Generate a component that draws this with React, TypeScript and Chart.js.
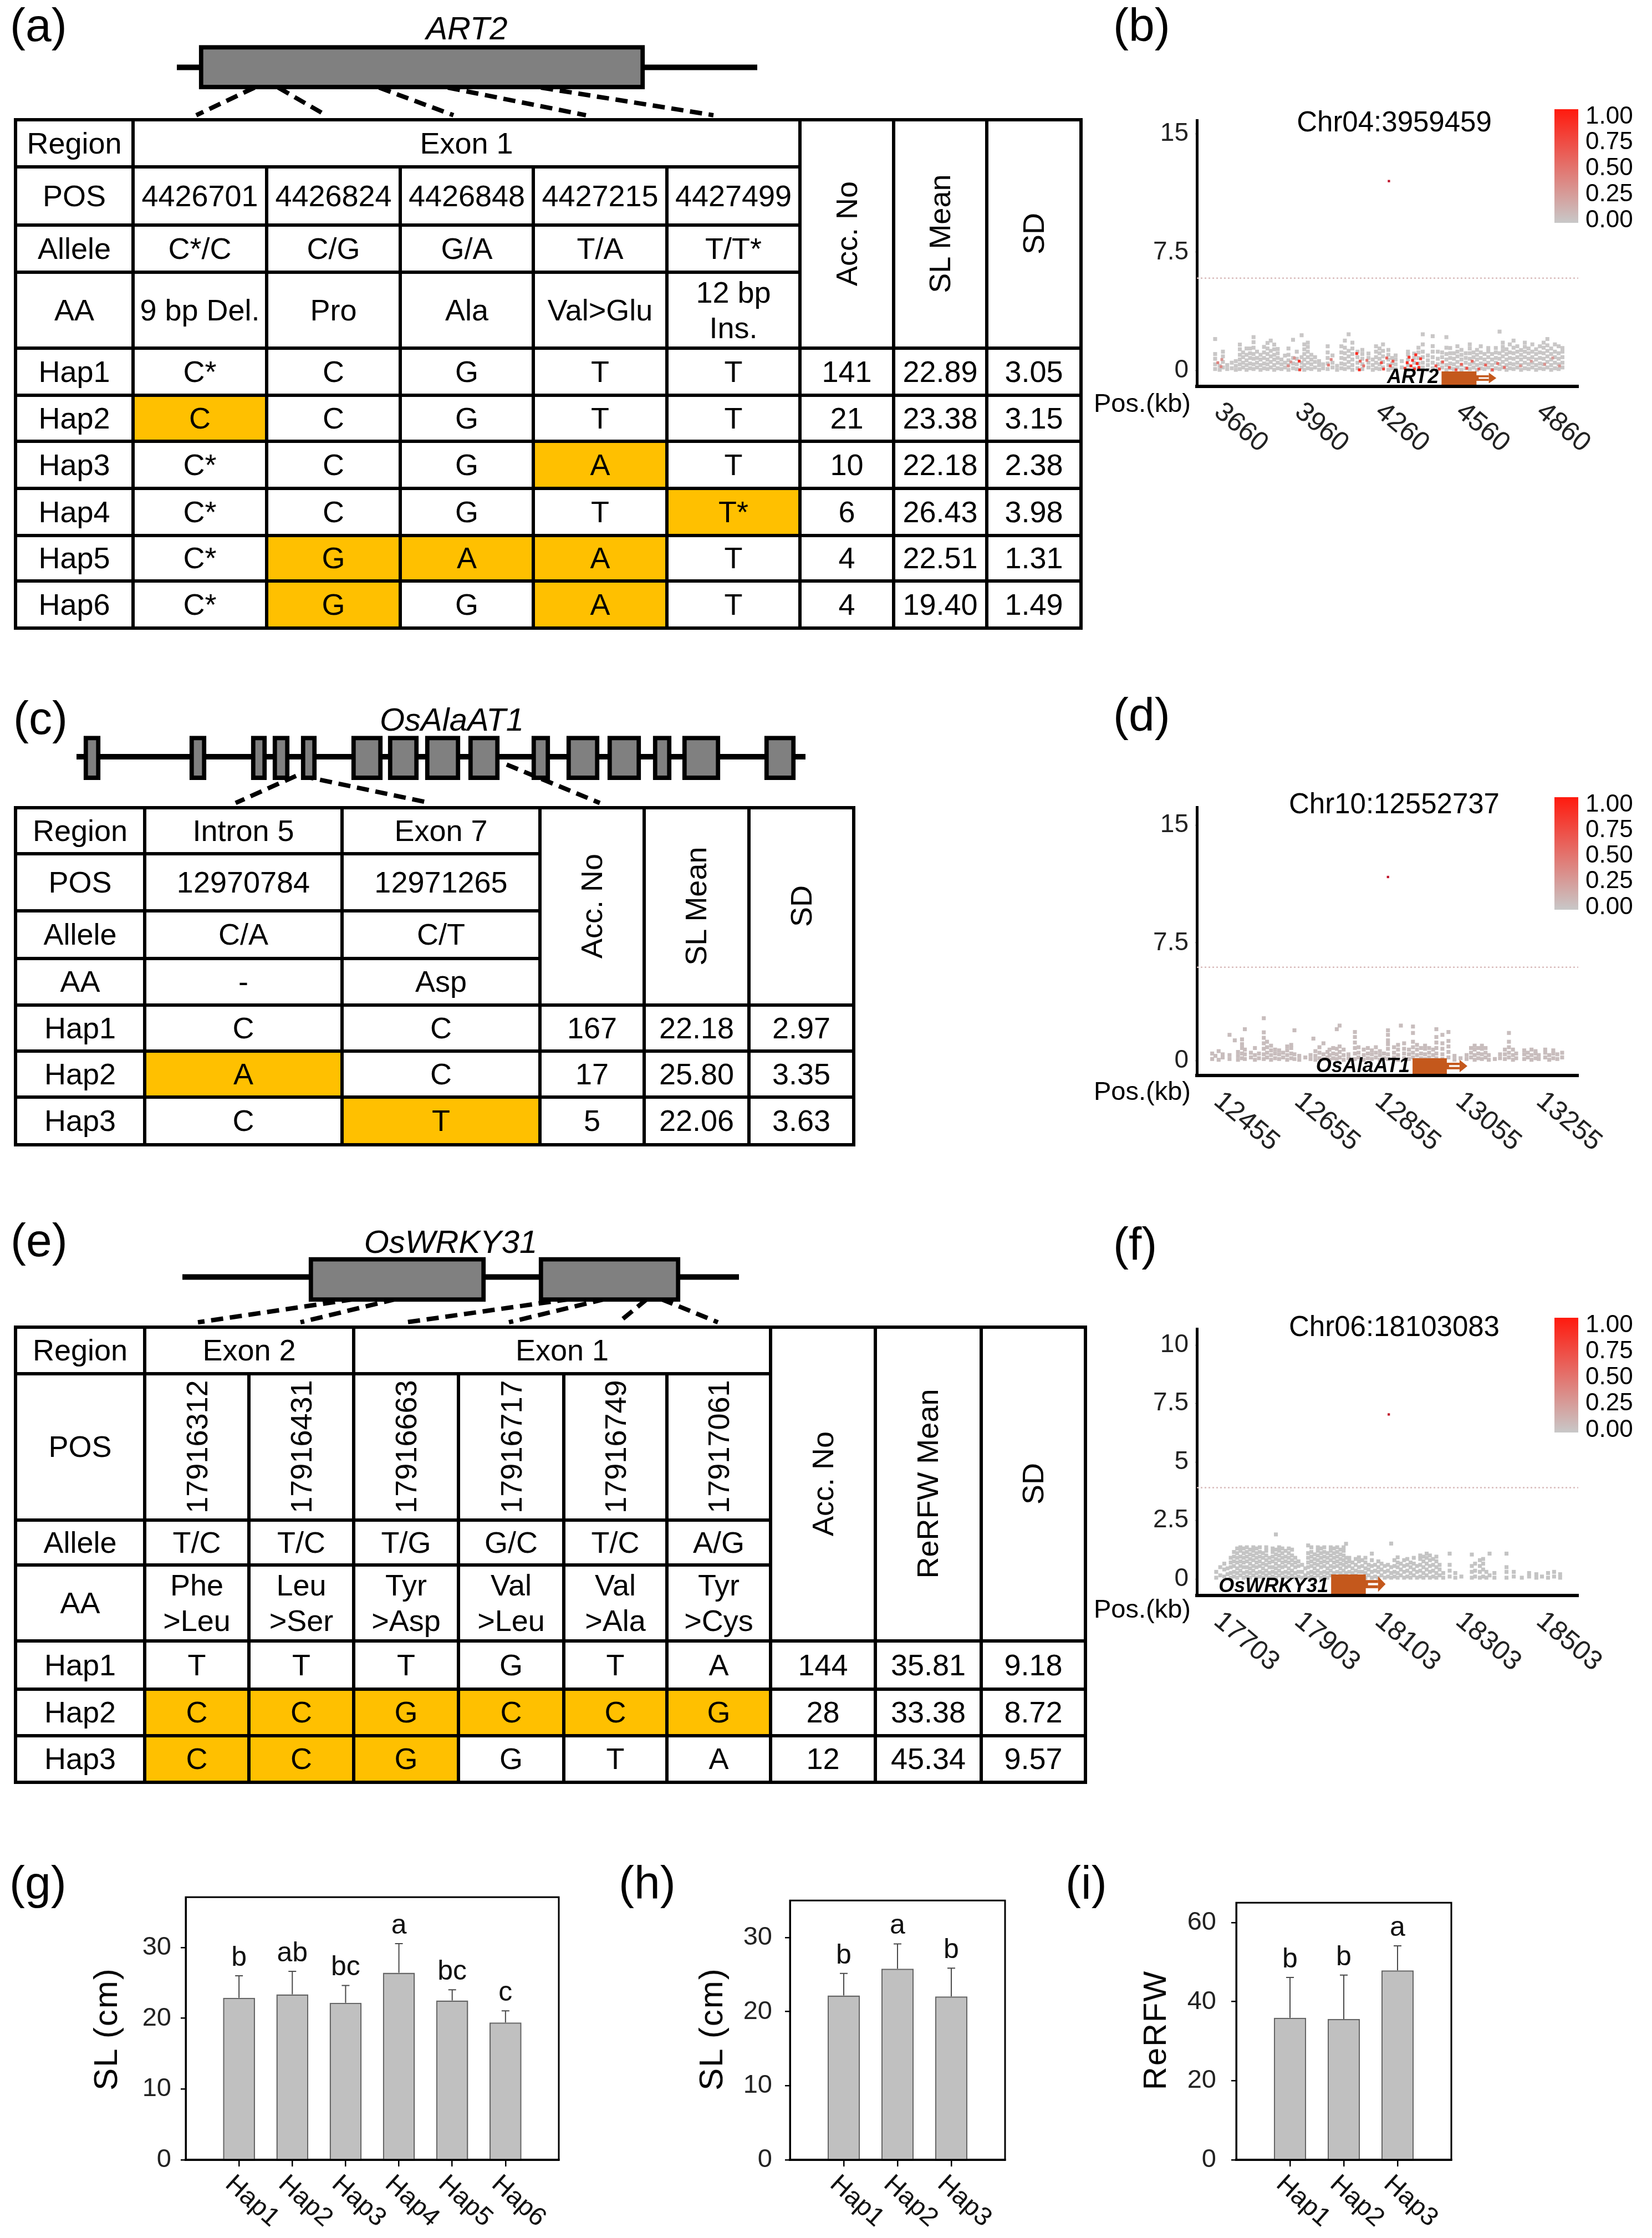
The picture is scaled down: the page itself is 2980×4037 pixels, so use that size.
import React, { useEffect, useRef } from 'react';
import { Chart, registerables } from 'chart.js';

Chart.register(...registerables);

const FONT = '"Liberation Sans", Arial, Helvetica, sans-serif';
const HL = '#FFC000';
const GENE_BROWN = '#C4581C';

// ---------------- (a) ART2 table data ----------------
const aRegions = [{ text: 'Exon 1', from: 0, to: 5 }];
const aPos = ['4426701', '4426824', '4426848', '4427215', '4427499'];
const aAllele = ['C*/C', 'C/G', 'G/A', 'T/A', 'T/T*'];
const aAA = ['9 bp Del.', 'Pro', 'Ala', 'Val>Glu', '12 bp\nIns.'];
const aHaps = ['Hap1', 'Hap2', 'Hap3', 'Hap4', 'Hap5', 'Hap6'];
const aHapAlleles = [
  ['C*', 'C', 'G', 'T', 'T'],
  ['C', 'C', 'G', 'T', 'T'],
  ['C*', 'C', 'G', 'A', 'T'],
  ['C*', 'C', 'G', 'T', 'T*'],
  ['C*', 'G', 'A', 'A', 'T'],
  ['C*', 'G', 'G', 'A', 'T'],
];
const aHighlight = [
  [0, 0, 0, 0, 0],
  [1, 0, 0, 0, 0],
  [0, 0, 0, 1, 0],
  [0, 0, 0, 0, 1],
  [0, 1, 1, 1, 0],
  [0, 1, 0, 1, 0],
];
const aAcc = ['141', '21', '10', '6', '4', '4'];
const aMean = ['22.89', '23.38', '22.18', '26.43', '22.51', '19.40'];
const aSD = ['3.05', '3.15', '2.38', '3.98', '1.31', '1.49'];
const aStatHeads = ['Acc. No', 'SL Mean', 'SD'];

// ---------------- (c) OsAlaAT1 table data ----------------
const cRegions = [{ text: 'Intron 5', from: 0, to: 1 }, { text: 'Exon 7', from: 1, to: 2 }];
const cPos = ['12970784', '12971265'];
const cAllele = ['C/A', 'C/T'];
const cAA = ['-', 'Asp'];
const cHaps = ['Hap1', 'Hap2', 'Hap3'];
const cHapAlleles = [['C', 'C'], ['A', 'C'], ['C', 'T']];
const cHighlight = [[0, 0], [1, 0], [0, 1]];
const cAcc = ['167', '17', '5'];
const cMean = ['22.18', '25.80', '22.06'];
const cSD = ['2.97', '3.35', '3.63'];
const cStatHeads = ['Acc. No', 'SL Mean', 'SD'];

// ---------------- (e) OsWRKY31 table data ----------------
const eRegions = [{ text: 'Exon 2', from: 0, to: 2 }, { text: 'Exon 1', from: 2, to: 6 }];
const ePos = ['17916312', '17916431', '17916663', '17916717', '17916749', '17917061'];
const eAllele = ['T/C', 'T/C', 'T/G', 'G/C', 'T/C', 'A/G'];
const eAA = ['Phe\n>Leu', 'Leu\n>Ser', 'Tyr\n>Asp', 'Val\n>Leu', 'Val\n>Ala', 'Tyr\n>Cys'];
const eHaps = ['Hap1', 'Hap2', 'Hap3'];
const eHapAlleles = [
  ['T', 'T', 'T', 'G', 'T', 'A'],
  ['C', 'C', 'G', 'C', 'C', 'G'],
  ['C', 'C', 'G', 'G', 'T', 'A'],
];
const eHighlight = [
  [0, 0, 0, 0, 0, 0],
  [1, 1, 1, 1, 1, 1],
  [1, 1, 1, 0, 0, 0],
];
const eAcc = ['144', '28', '12'];
const eMean = ['35.81', '33.38', '45.34'];
const eSD = ['9.18', '8.72', '9.57'];
const eStatHeads = ['Acc. No', 'ReRFW Mean', 'SD'];

// ---------------- (b) Chr04 regional association (kb, -log10P values per column) ----------------
const bXTicks = [3660, 3960, 4260, 4560, 4860];
const bYTicks = [0, 7.5, 15];
const bCols = [
  [3623, 0.1, 0.4, 0.75, 1.05, 2.0], [3640, 0.05, 0.3], [3652, 0.2, 0.55, 0.9, 1.2], [3668, 0.1, 0.35],
  [3685, 0.15, 0.5], [3700, 0.05, 0.3, 0.6], [3715, 0.1, 0.4, 0.7, 1.0, 1.35, 1.65], [3727, 0.2, 0.5, 0.85, 1.15],
  [3740, 0.05, 0.35, 0.65, 1.0, 1.4], [3753, 0.15, 0.45, 0.8, 1.1, 1.4], [3766, 0.1, 0.4, 0.75, 1.05, 1.45, 1.8, 2.12],
  [3779, 0.2, 0.5, 0.8, 1.2], [3792, 0.05, 0.35, 0.7, 1.0], [3805, 0.15, 0.45, 0.8, 1.15, 1.5],
  [3818, 0.1, 0.4, 0.7, 1.05, 1.4, 1.75], [3830, 0.2, 0.55, 0.9, 1.25, 1.9], [3843, 0.05, 0.35, 0.7, 1.0, 1.35, 1.65],
  [3856, 0.15, 0.5, 0.8, 1.1, 1.37], [3870, 0.1, 0.4, 0.7], [3883, 0.2, 0.5, 0.95], [3896, 0.05, 0.35, 0.65, 1.0, 1.4],
  [3913, 0.15, 0.45, 0.8, 1.95], [3927, 0.1, 0.4, 0.75, 1.2], [3945, 0.2, 0.5, 0.85, 2.24],
  [3955, 0.05, 0.35, 0.7, 1.05, 1.35, 1.66], [3968, 0.15, 0.5, 0.85, 1.2, 1.5, 1.77], [3981, 0.1, 0.4, 0.7, 1.0],
  [3995, 0.2, 0.55, 0.85], [4010, 0.05, 0.35, 0.6], [4025, 0.15, 0.4], [4042, 0.1, 0.45, 0.8, 1.15, 1.54],
  [4060, 0.2, 0.5, 0.96], [4077, 0.05, 0.3], [4093, 0.15, 0.45, 0.8, 1.15, 1.54], [4106, 0.1, 0.4, 0.75, 1.1, 1.45, 1.9],
  [4120, 0.2, 0.55, 0.9, 1.25, 2.3], [4134, 0.05, 0.35, 0.7, 1.05, 1.4, 1.77], [4153, 0.15, 0.5, 0.85, 1.2],
  [4171, 0.1, 0.4, 0.75, 1.05, 1.31], [4194, 0.2, 0.5, 0.8, 1.08], [4210, 0.05, 0.35, 0.7], [4222, 0.15, 0.5, 0.85, 1.2, 1.54],
  [4235, 0.1, 0.4, 0.75, 1.1, 1.4], [4248, 0.2, 0.55, 0.9, 1.25, 1.66], [4268, 0.05, 0.35, 0.7, 1.0, 1.31],
  [4282, 0.15, 0.45, 0.8], [4295, 0.1, 0.4, 0.7, 0.96], [4318, 0.2, 0.6], [4341, 0.05, 0.35, 0.7, 1.0, 1.2],
  [4364, 0.15, 0.5, 0.8, 1.08], [4380, 0.1, 0.45, 0.8, 1.15, 1.45], [4396, 0.2, 0.5, 0.85, 1.2, 1.66, 2.3],
  [4415, 0.05, 0.35, 0.65, 0.96], [4433, 0.15, 0.5, 0.85, 1.2, 1.55, 2.18], [4452, 0.1, 0.4, 0.75, 1.2],
  [4468, 0.2, 0.5, 0.85, 1.15], [4484, 0.05, 0.35, 0.7, 1.05, 1.45, 2.12], [4498, 0.15, 0.45, 0.8, 1.1, 1.43],
  [4512, 0.1, 0.4, 0.75, 1.1], [4525, 0.2, 0.55, 0.9, 1.2, 1.54], [4540, 0.05, 0.35, 0.7, 1.0, 1.31],
  [4556, 0.15, 0.5, 0.8, 1.1], [4571, 0.1, 0.4, 0.75, 1.1, 1.4, 1.66], [4585, 0.2, 0.5, 0.85, 1.15],
  [4598, 0.05, 0.35, 0.7, 1.0, 1.31], [4612, 0.15, 0.45, 0.8, 1.15, 1.54], [4626, 0.1, 0.4, 0.7, 1.05],
  [4640, 0.2, 0.5, 0.85, 1.2, 1.43], [4654, 0.05, 0.35, 0.7, 1.05], [4668, 0.15, 0.5, 0.8, 1.15, 1.43],
  [4682, 0.1, 0.4, 0.75, 1.1, 2.47], [4694, 0.2, 0.55, 0.9, 1.25, 1.5, 1.77], [4708, 0.05, 0.35, 0.7, 1.05, 1.35],
  [4720, 0.15, 0.45, 0.8, 1.15, 1.66], [4734, 0.1, 0.4, 0.75, 1.1, 1.45, 1.9], [4748, 0.2, 0.5, 0.85, 1.2, 1.54],
  [4762, 0.05, 0.35, 0.7, 1.0, 1.3], [4776, 0.15, 0.5, 0.85, 1.2, 1.5, 1.77], [4790, 0.1, 0.4, 0.75, 1.1, 1.4],
  [4804, 0.2, 0.5, 0.85, 1.2, 1.66], [4818, 0.05, 0.35, 0.7, 1.05, 1.35], [4832, 0.15, 0.45, 0.8, 1.15, 1.54],
  [4846, 0.1, 0.4, 0.75, 1.1, 1.45, 1.77], [4860, 0.2, 0.55, 0.9, 1.25, 1.6, 2.0], [4874, 0.05, 0.35, 0.7, 1.05, 1.4],
  [4888, 0.15, 0.5, 0.85, 1.2, 1.66], [4902, 0.1, 0.4, 0.75, 1.1, 1.54], [4916, 0.2, 0.5, 0.85, 1.2, 1.43],
];
// [kb, -log10P, r2] for SNPs in LD with the lead SNP
const bLD = [
  [3633, 0.5, 0.4], [3645, 0.25, 0.35], [3648, 0.7, 0.3], [3895, 0.3, 0.35], [3905, 0.55, 0.3], [3918, 0.8, 0.3],
  [3936, 0.6, 0.85], [3938, 0.05, 0.8], [4045, 0.35, 0.45], [4055, 0.7, 0.4], [4150, 1.08, 0.9], [4160, 0.05, 0.95],
  [4163, 0.6, 0.6], [4176, 0.3, 0.5], [4188, 0.65, 0.45], [4242, 0.5, 0.7], [4250, 0.1, 0.75], [4262, 0.8, 0.6],
  [4275, 0.3, 0.8], [4285, 0.6, 0.65], [4330, 0.15, 0.8], [4338, 0.5, 0.9], [4345, 0.85, 0.85], [4352, 0.3, 0.95],
  [4358, 0.65, 0.9], [4365, 0.1, 0.85], [4370, 1.0, 0.9], [4375, 0.45, 0.95], [4382, 0.2, 0.9], [4388, 0.75, 0.8],
  [4445, 0.3, 0.7], [4458, 0.1, 0.75], [4470, 0.55, 0.6], [4495, 0.2, 0.65], [4520, 0.05, 0.7], [4540, 0.4, 0.6],
  [4560, 0.15, 0.7], [4580, 0.6, 0.55], [4605, 0.1, 0.6], [4630, 0.35, 0.6], [4655, 0.05, 0.65], [4675, 0.45, 0.5],
  [4700, 0.2, 0.5], [4760, 0.3, 0.3], [4800, 0.6, 0.25], [4850, 0.4, 0.3], [4880, 0.8, 0.25], [4905, 0.3, 0.3],
];
const bLead = [4270, 12.0];

// ---------------- (d) Chr10 regional association ----------------
const dXTicks = [12455, 12655, 12855, 13055, 13255];
const dYTicks = [0, 7.5, 15];
const dCols = [
  [12424, 0.1, 0.45], [12432, 0.3], [12440, 0.05, 0.6], [12450, 0.2, 0.4], [12467, 0.1, 0.35, 1.64], [12480, 1.29],
  [12488, 0.05, 0.3, 0.55], [12498, 0.15, 0.45, 0.8, 1.05, 1.35], [12505, 0.1, 0.4, 0.7, 2.0], [12520, 0.2, 0.5],
  [12530, 0.05, 0.35, 0.8], [12540, 0.15, 0.45], [12552, 0.1, 0.4, 0.75, 1.1, 1.45, 1.8, 2.7], [12560, 0.2, 0.5, 0.85, 1.2],
  [12570, 0.05, 0.35, 0.65, 0.95], [12580, 0.15, 0.45, 0.7], [12590, 0.1, 0.4, 0.65], [12600, 0.2, 0.5],
  [12610, 0.05, 0.35, 0.65, 0.9], [12620, 0.15, 0.45, 0.8, 1.0], [12628, 0.1, 0.4, 1.93], [12640, 0.05, 0.3],
  [12655, 0.2], [12668, 0.1, 0.35], [12675, 1.4], [12680, 0.05, 0.3, 0.6], [12690, 0.15, 0.5, 0.85], [12700, 0.1, 0.4, 1.1],
  [12710, 0.2, 0.55], [12715, 0.05, 0.35, 0.7], [12724, 0.15, 0.45, 0.8], [12733, 0.1, 0.4, 0.75, 2.0],
  [12740, 0.2, 0.55, 0.9, 2.23], [12750, 0.05, 0.35, 0.7], [12762, 0.15, 0.4], [12772, 0.05],
  [12778, 0.1, 0.45, 0.8, 1.15, 1.5, 1.82], [12787, 0.2, 0.5, 0.85], [12800, 0.05, 0.35, 0.7], [12810, 0.15, 0.45, 0.8],
  [12820, 0.1, 0.4, 0.65], [12830, 0.2, 0.5, 0.85], [12840, 0.05, 0.35, 0.6], [12850, 0.15, 0.45],
  [12860, 0.1, 0.4, 0.75, 1.05, 1.29, 1.64, 1.93], [12875, 0.2, 0.5, 0.85], [12885, 0.05, 0.35, 0.7, 1.0], [12892, 2.23],
  [12900, 0.15, 0.45, 0.75, 1.1], [12912, 0.1, 0.4, 0.7], [12922, 0.2, 0.5, 0.85, 1.2, 1.76, 2.17], [12932, 0.05, 0.35, 0.7, 1.0],
  [12942, 0.15, 0.45, 0.8], [12952, 0.1, 0.4, 0.75, 0.95], [12962, 0.2, 0.5, 0.8], [12972, 0.05, 0.35, 0.7],
  [12980, 0.15, 0.45, 0.8, 1.15, 1.5, 2.0], [12995, 0.1, 0.4, 0.75, 1.1, 1.64], [13010, 0.2, 0.55, 0.9, 1.25, 1.82],
  [13025, 0.05, 0.3], [13040, 0.15], [13055, 0.1, 0.35], [13066, 0.2, 0.5, 0.8], [13075, 0.05, 0.35, 0.7, 0.95],
  [13084, 0.15, 0.45, 0.8], [13093, 0.1, 0.4, 0.75, 0.95], [13102, 0.2, 0.5, 0.8], [13110, 0.05, 0.35], [13125, 0.1],
  [13138, 0.15, 0.4], [13150, 0.1, 0.4, 0.7], [13160, 0.2, 0.5, 0.85, 1.2, 1.76], [13170, 0.05, 0.35, 0.7], [13178, 0.15, 0.45],
  [13198, 0.1, 0.4, 0.65], [13207, 0.2, 0.5], [13216, 0.05, 0.35, 0.7], [13226, 0.15, 0.45, 0.6], [13234, 0.1, 0.35],
  [13250, 0.2, 0.5, 0.7], [13260, 0.05, 0.35], [13270, 0.15, 0.45, 0.65], [13280, 0.1, 0.4], [13292, 0.2, 0.5],
];
const dLD: number[][] = [];
const dLead = [12860, 11.7];

// ---------------- (f) Chr06 regional association ----------------
const fXTicks = [17703, 17903, 18103, 18303, 18503];
const fYTicks = [0, 2.5, 5, 7.5, 10];
const fCols = [
  [17682, 0.05, 0.3], [17692, 0.15, 0.5], [17702, 0.1, 0.4, 0.65], [17710, 0.2, 0.45],
  [17718, 0.05, 0.25, 0.5, 0.7, 0.9], [17726, 0.1, 0.3, 0.55, 0.75, 0.95, 1.15], [17734, 0.05, 0.25, 0.45, 0.7, 0.9, 1.1, 1.3],
  [17742, 0.15, 0.35, 0.55, 0.75, 0.95, 1.2, 1.35], [17750, 0.05, 0.25, 0.5, 0.7, 0.9, 1.1, 1.3],
  [17758, 0.1, 0.3, 0.5, 0.75, 0.95, 1.15, 1.35], [17766, 0.05, 0.25, 0.45, 0.65, 0.85, 1.05, 1.25],
  [17774, 0.15, 0.35, 0.55, 0.8, 1.0, 1.2, 1.35], [17782, 0.05, 0.25, 0.5, 0.7, 0.9, 1.1, 1.3],
  [17790, 0.1, 0.3, 0.55, 0.75, 0.95, 1.15, 1.35], [17798, 0.05, 0.25, 0.45, 0.65, 0.9, 1.1],
  [17806, 0.15, 0.35, 0.6, 0.8, 1.0, 1.2, 1.35], [17814, 0.05, 0.25, 0.5, 0.7, 0.9], [17822, 0.1, 0.3, 0.5, 0.75, 0.95, 1.15, 1.3],
  [17830, 0.05, 0.25, 0.45, 0.65, 0.85, 1.05, 1.25, 1.9], [17838, 0.15, 0.35, 0.55, 0.8, 1.0, 1.2, 1.35],
  [17846, 0.05, 0.25, 0.5, 0.7, 0.9, 1.1, 1.3], [17854, 0.1, 0.3, 0.55, 0.75, 0.95, 1.2], [17862, 0.05, 0.25, 0.45, 0.7, 0.9, 1.1, 1.3],
  [17870, 0.15, 0.35, 0.6, 0.8, 1.0, 1.25], [17878, 0.05, 0.25, 0.5, 0.7, 0.9], [17886, 0.1, 0.3, 0.55, 0.75],
  [17895, 0.05, 0.3, 0.6], [17903, 0.15, 0.45], [17910, 0.05, 0.25, 0.5, 0.7, 0.9, 1.1, 1.43],
  [17918, 0.1, 0.3, 0.55, 0.75, 0.95, 1.15, 1.35], [17926, 0.05, 0.25, 0.45, 0.65, 0.85, 1.05],
  [17934, 0.15, 0.35, 0.6, 0.8, 1.0, 1.2, 1.35], [17942, 0.05, 0.25, 0.5, 0.7, 0.9, 1.1, 1.3],
  [17950, 0.1, 0.3, 0.55, 0.75, 0.95, 1.15, 1.35], [17958, 0.05, 0.25, 0.45, 0.7, 0.9, 1.1],
  [17966, 0.15, 0.35, 0.55, 0.8, 1.0, 1.2, 1.35], [17974, 0.05, 0.25, 0.5, 0.7, 0.9, 1.1, 1.3],
  [17982, 0.1, 0.3, 0.55, 0.75, 0.95, 1.15, 1.35], [17990, 0.05, 0.25, 0.45, 0.65, 0.85, 1.05, 1.25],
  [17998, 0.15, 0.35, 0.6, 0.8, 1.0, 1.2, 1.35], [18004, 0.05, 0.25, 0.5, 0.7, 0.9, 1.5],
  [18012, 0.1, 0.3, 0.55, 0.75, 0.9], [18020, 0.05, 0.25, 0.45, 0.7], [18028, 0.15, 0.35, 0.6, 0.85],
  [18036, 0.05, 0.3, 0.5, 0.75, 0.92], [18044, 0.1, 0.3, 0.55, 0.8], [18052, 0.05, 0.25, 0.45, 0.7, 0.9], [18060, 0.15, 0.4, 0.6],
  [18068, 0.05, 0.3, 0.55, 0.8, 1.08], [18076, 0.1, 0.35, 0.6], [18084, 0.05, 0.3, 0.5, 0.75], [18092, 0.15, 0.4, 0.65],
  [18100, 0.05, 0.3, 0.55], [18108, 0.1, 0.35, 0.6], [18116, 0.05, 0.25, 0.5, 1.51], [18124, 0.1, 0.3, 0.55, 0.8],
  [18132, 0.05, 0.25, 0.5, 0.7, 0.92], [18140, 0.15, 0.4, 0.65], [18148, 0.05, 0.3, 0.55, 0.8], [18156, 0.1, 0.35, 0.6, 0.85],
  [18164, 0.05, 0.25, 0.5, 0.7], [18172, 0.15, 0.4, 0.65, 0.9], [18180, 0.05, 0.3, 0.55], [18188, 0.1, 0.35, 0.6, 0.85, 1.0],
  [18196, 0.05, 0.25, 0.5, 0.75, 0.95], [18204, 0.15, 0.4, 0.65, 0.9, 1.08], [18212, 0.05, 0.3, 0.55, 0.8, 1.0],
  [18220, 0.1, 0.35, 0.6, 0.85], [18228, 0.05, 0.25, 0.5, 0.75, 0.95], [18236, 0.15, 0.4, 0.6], [18245, 0.05, 0.25],
  [18261, 0.1, 0.35, 0.6, 1.08], [18275, 0.05, 0.25], [18290, 0.1], [18316, 0.05, 0.3, 0.55, 1.04], [18324, 0.1, 0.35, 0.65],
  [18336, 0.05, 0.3, 0.55, 0.8], [18344, 0.1, 0.4, 0.65, 0.85], [18352, 0.05, 0.3], [18360, 0.15, 1.08], [18372, 0.05, 0.25],
  [18402, 0.05, 0.3, 0.5, 1.08], [18420, 0.1, 0.3], [18440, 0.05], [18458, 0.1, 0.25], [18476, 0.05, 0.2], [18490, 0.1],
  [18505, 0.05, 0.25], [18520, 0.1, 0.3], [18535, 0.05, 0.2],
];
const fLD: number[][] = [];
const fLead = [18110, 7.03];

const legendLabels = ['1.00', '0.75', '0.50', '0.25', '0.00'];

// ---------------- (g)(h)(i) bar data ----------------
const gLabels = ['Hap1', 'Hap2', 'Hap3', 'Hap4', 'Hap5', 'Hap6'];
const gMeans = [22.89, 23.38, 22.18, 26.43, 22.51, 19.4];
const gSDs = [3.1, 3.25, 2.45, 4.1, 1.5, 1.65];
const gLetters = ['b', 'ab', 'bc', 'a', 'bc', 'c'];
const gYTicks = [0, 10, 20, 30];

const hLabels = ['Hap1', 'Hap2', 'Hap3'];
const hMeans = [22.18, 25.8, 22.06];
const hSDs = [2.97, 3.35, 3.8];
const hLetters = ['b', 'a', 'b'];
const hYTicks = [0, 10, 20, 30];

const iLabels = ['Hap1', 'Hap2', 'Hap3'];
const iMeans = [35.9, 35.6, 47.9];
const iSDs = [10.2, 11.1, 6.2];
const iLetters = ['b', 'b', 'a'];
const iYTicks = [0, 20, 40, 60];

// ---------------- helpers ----------------
function ldColor(r2: number) {
  const r = Math.round(200 + 55 * r2);
  const g = Math.round(200 - 174 * r2);
  const b = Math.round(200 - 186 * r2);
  return `rgb(${r},${g},${b})`;
}

function Txt({ x, base, size, children, align = 'left', italic = false, bold = false }: any) {
  const top = base - 0.847 * size;
  const transform = align === 'center' ? 'translateX(-50%)' : align === 'right' ? 'translateX(-100%)' : undefined;
  return (
    <div style={{ position: 'absolute', left: x, top, fontSize: size, lineHeight: `${size}px`, fontFamily: FONT,
      fontStyle: italic ? 'italic' : 'normal', fontWeight: bold ? 'bold' : 'normal', whiteSpace: 'nowrap', transform, color: '#000' }}>
      {children}
    </div>
  );
}

function VTxt({ cx, cy, size, children }: any) {
  return (
    <div style={{ position: 'absolute', left: cx, top: cy, fontSize: size, lineHeight: 1, fontFamily: FONT, whiteSpace: 'nowrap',
      letterSpacing: 2, transform: 'translate(-50%,-50%) rotate(-90deg)', color: '#000' }}>
      {children}
    </div>
  );
}

type Cell = { r0: number; r1: number; c0: number; c1: number; text: string; hl?: boolean; vertical?: boolean };

function buildCells(d: any): Cell[] {
  const k = d.pos.length;
  const cells: Cell[] = [];
  cells.push({ r0: 0, r1: 1, c0: 0, c1: 1, text: 'Region' });
  d.regions.forEach((r: any) => cells.push({ r0: 0, r1: 1, c0: 1 + r.from, c1: 1 + r.to, text: r.text }));
  d.statHeads.forEach((s: string, j: number) => cells.push({ r0: 0, r1: 4, c0: k + 1 + j, c1: k + 2 + j, text: s, vertical: true }));
  const rowsHead = [['POS', d.pos, d.verticalPos], ['Allele', d.allele, false], ['AA', d.aa, false]];
  rowsHead.forEach((rw: any, ri: number) => {
    cells.push({ r0: ri + 1, r1: ri + 2, c0: 0, c1: 1, text: rw[0] });
    rw[1].forEach((t: string, ci: number) => cells.push({ r0: ri + 1, r1: ri + 2, c0: ci + 1, c1: ci + 2, text: t, vertical: rw[2] }));
  });
  d.haps.forEach((h: string, hi: number) => {
    const r = 4 + hi;
    cells.push({ r0: r, r1: r + 1, c0: 0, c1: 1, text: h });
    d.hapAlleles[hi].forEach((t: string, ci: number) =>
      cells.push({ r0: r, r1: r + 1, c0: ci + 1, c1: ci + 2, text: t, hl: !!d.highlight[hi][ci] }));
    [d.acc[hi], d.mean[hi], d.sd[hi]].forEach((t: string, j: number) =>
      cells.push({ r0: r, r1: r + 1, c0: k + 1 + j, c1: k + 2 + j, text: t }));
  });
  return cells;
}

function HapTable({ cols, rows, cells }: { cols: number[]; rows: number[]; cells: Cell[] }) {
  const lw = 6;
  const x0 = cols[0];
  const y0 = rows[0];
  return (
    <div style={{ position: 'absolute', left: x0 - lw / 2, top: y0 - lw / 2, width: cols[cols.length - 1] - x0 + lw,
      height: rows[rows.length - 1] - y0 + lw, background: '#000' }}>
      {cells.map((c, i) => (
        <div key={i} style={{ position: 'absolute', left: cols[c.c0] - x0 + lw, top: rows[c.r0] - y0 + lw,
          width: cols[c.c1] - cols[c.c0] - lw, height: rows[c.r1] - rows[c.r0] - lw, background: c.hl ? HL : '#fff',
          display: 'flex', alignItems: 'center', justifyContent: 'center', textAlign: 'center', whiteSpace: 'pre-line',
          lineHeight: 1.17, fontSize: 54, fontFamily: FONT, color: '#000', overflow: 'visible' }}>
          {c.vertical ? (
            <span style={{ display: 'inline-block', transform: 'rotate(-90deg)', whiteSpace: 'nowrap', flexShrink: 0 }}>{c.text}</span>
          ) : c.text}
        </div>
      ))}
    </div>
  );
}

// ---------------- gene model (floating bars) ----------------
function GeneModel(p: any) {
  const ref = useRef<HTMLCanvasElement>(null);
  useEffect(() => {
    const chart = new Chart(ref.current as HTMLCanvasElement, {
      type: 'bar',
      data: {
        datasets: [
          { type: 'bar', data: p.exons.map((e: number[]) => ({ x: [e[0], e[1]], y: p.exonY })), backgroundColor: '#808080',
            borderColor: '#000', borderWidth: 8, borderSkipped: false, barThickness: p.exonH } as any,
          ...p.connectors.map((c: number[]) => ({ type: 'line', indexAxis: 'x', data: [{ x: c[0], y: c[1] }, { x: c[2], y: c[3] }],
            borderColor: '#000', borderWidth: 8, borderDash: [22, 12], pointRadius: 0, fill: false })),
          { type: 'line', indexAxis: 'x', data: [{ x: p.backbone[0], y: p.backboneY }, { x: p.backbone[1], y: p.backboneY }],
            borderColor: '#000', borderWidth: 10, pointRadius: 0, fill: false } as any,
        ],
      },
      options: {
        indexAxis: 'y', animation: false, responsive: false, events: [],
        plugins: { legend: { display: false }, tooltip: { enabled: false } },
        layout: { padding: 0 },
        scales: {
          x: { type: 'linear', min: 0, max: p.width, display: false },
          y: { type: 'linear', min: 0, max: p.height, reverse: true, display: false },
        },
      } as any,
    });
    return () => chart.destroy();
  }, []);
  return <canvas ref={ref} width={p.width} height={p.height}
    style={{ position: 'absolute', left: p.left, top: p.top, width: p.width, height: p.height }} />;
}

// ---------------- regional association (Manhattan) ----------------
const MAN_LEFT = 1960;
const MAN_W = 1020;
const AREA_L = 2159;
const AREA_R = 2847;

function Manhattan(p: any) {
  const ref = useRef<HTMLCanvasElement>(null);
  const canvasTop = p.areaTop - 60;
  const canvasH = p.areaBottom - canvasTop + 150;
  useEffect(() => {
    const grayPts = p.cols.flatMap((c: number[]) => c.slice(1).map((v) => ({ x: c[0], y: v })));
    const ldPts = p.ld.map((r: number[]) => ({ x: r[0], y: r[1] }));
    const ldCols = p.ld.map((r: number[]) => ldColor(r[2]));
    const plugin = {
      id: 'manExtras',
      afterDatasetsDraw(chart: any) {
        const { ctx, chartArea, scales } = chart;
        const x = scales.x, y = scales.y;
        const bx0 = x.getPixelForValue(p.geneBox[0]);
        const bx1 = x.getPixelForValue(p.geneBox[1]);
        const ax1 = x.getPixelForValue(p.geneEnd);
        const yt = y.getPixelForValue(p.geneTop);
        const yb = chartArea.bottom - 3;
        ctx.save();
        ctx.fillStyle = GENE_BROWN;
        ctx.fillRect(bx0, yt, bx1 - bx0, yb - yt);
        const yc = (yt + yb) / 2;
        const sh = (yb - yt) * 0.42;
        const headL = (ax1 - bx1) * 0.38;
        ctx.fillRect(bx1 - 1, yc - sh / 2, ax1 - bx1 - headL + 1, sh);
        ctx.beginPath();
        ctx.moveTo(ax1 - headL, yc - sh * 0.95);
        ctx.lineTo(ax1, yc);
        ctx.lineTo(ax1 - headL, yc + sh * 0.95);
        ctx.closePath();
        ctx.fill();
        ctx.fillStyle = '#fff';
        ctx.fillRect(bx1 + 4, yc - sh * 0.14, ax1 - bx1 - headL - 4, sh * 0.28);
        ctx.fillStyle = '#000';
        ctx.font = `italic bold 36px ${FONT}`;
        ctx.textAlign = 'right';
        ctx.textBaseline = 'alphabetic';
        ctx.fillText(p.gene, bx0 - 5, chartArea.bottom - 6);
        ctx.restore();
      },
      afterDraw(chart: any) {
        const { ctx, chartArea, scales } = chart;
        ctx.save();
        ctx.fillStyle = '#222';
        ctx.font = `49px ${FONT}`;
        ctx.textAlign = 'left';
        ctx.textBaseline = 'alphabetic';
        p.xTicks.forEach((v: number) => {
          const px = scales.x.getPixelForValue(v);
          ctx.save();
          ctx.translate(px - 22, chartArea.bottom + 50);
          ctx.rotate((40 * Math.PI) / 180);
          ctx.fillText(String(v), 0, 0);
          ctx.restore();
        });
        ctx.restore();
      },
    };
    const chart = new Chart(ref.current as HTMLCanvasElement, {
      type: 'scatter',
      data: {
        datasets: [
          { type: 'scatter', data: [{ x: p.lead[0], y: p.lead[1] }], pointStyle: 'rect', pointRadius: 3, pointBackgroundColor: '#c0142a', pointBorderWidth: 0 },
          { type: 'scatter', data: ldPts, pointStyle: 'rect', pointRadius: 3.6, pointBackgroundColor: ldCols, pointBorderWidth: 0 },
          { type: 'scatter', data: grayPts, pointStyle: 'rect', pointRadius: 5, pointBackgroundColor: p.grayColor, pointBorderWidth: 0 },
          { type: 'line', data: [{ x: p.xMin, y: p.threshold }, { x: p.xMax, y: p.threshold }], borderColor: '#d9bcbc',
            borderWidth: 2.5, borderDash: [3, 4], pointRadius: 0, fill: false },
        ] as any,
      },
      options: {
        animation: false, responsive: false, events: [],
        layout: { padding: { top: 60, left: 0, bottom: 0, right: MAN_W - (AREA_R - MAN_LEFT) } },
        plugins: { legend: { display: false }, tooltip: { enabled: false } },
        scales: {
          x: {
            type: 'linear', min: p.xMin, max: p.xMax,
            ticks: { display: false },
            grid: { display: false, drawTicks: false },
            border: { display: true, color: '#000', width: 6 },
            afterFit: (s: any) => { s.height = 150; },
          },
          y: {
            type: 'linear', min: p.yMin, max: p.yMax,
            afterBuildTicks: (s: any) => { s.ticks = p.yTicks.map((v: number) => ({ value: v })); },
            ticks: { font: { size: 46, family: FONT }, color: '#222', padding: 11, callback: (v: any) => String(v) },
            grid: { display: true, drawOnChartArea: false, drawTicks: true, tickLength: 4, color: '#bbb' },
            border: { display: true, color: '#000', width: 5 },
            afterFit: (s: any) => { s.width = AREA_L - MAN_LEFT; },
          },
        },
      } as any,
      plugins: [plugin],
    });
    return () => chart.destroy();
  }, []);
  const gTop = p.legendTop;
  const gBot = p.legendBottom;
  return (
    <>
      <canvas ref={ref} width={MAN_W} height={canvasH}
        style={{ position: 'absolute', left: MAN_LEFT, top: canvasTop, width: MAN_W, height: canvasH }} />
      <Txt x={2515} base={p.titleBase} size={51} align="center">{p.title}</Txt>
      <Txt x={1973} base={p.posBase} size={47}>Pos.(kb)</Txt>
      <div style={{ position: 'absolute', left: 2804, top: gTop, width: 43, height: gBot - gTop,
        background: 'linear-gradient(to top, rgb(200,200,200), rgb(255,26,14))' }} />
      {legendLabels.map((t, i) => {
        const cy = gTop + 10 + (i * (gBot - gTop - 18)) / 4;
        return <Txt key={t} x={2860} base={cy + 16} size={44}>{t}</Txt>;
      })}
    </>
  );
}

// ---------------- bar panel ----------------
function BarPanel(p: any) {
  const ref = useRef<HTMLCanvasElement>(null);
  useEffect(() => {
    const n = p.labels.length;
    const plugin = {
      id: 'barExtras',
      afterDatasetsDraw(chart: any) {
        const { ctx, scales } = chart;
        const x = scales.x, y = scales.y;
        ctx.save();
        p.means.forEach((m: number, i: number) => {
          const px = x.getPixelForValue(i);
          const y0 = y.getPixelForValue(m);
          const y1 = y.getPixelForValue(m + p.sds[i]);
          ctx.strokeStyle = '#4a4a4a';
          ctx.lineWidth = 2;
          ctx.beginPath();
          ctx.moveTo(px, y0);
          ctx.lineTo(px, y1);
          ctx.moveTo(px - 7, y1);
          ctx.lineTo(px + 7, y1);
          ctx.stroke();
          ctx.fillStyle = '#111';
          ctx.font = `50px ${FONT}`;
          ctx.textAlign = 'center';
          ctx.textBaseline = 'alphabetic';
          ctx.fillText(p.letters[i], px, y1 - 18);
        });
        ctx.restore();
      },
      afterDraw(chart: any) {
        const { ctx, chartArea: a, scales } = chart;
        ctx.save();
        ctx.strokeStyle = '#000';
        ctx.lineWidth = 3;
        ctx.strokeRect(a.left, a.top, a.right - a.left, a.bottom - a.top);
        ctx.fillStyle = '#111';
        ctx.font = `47px ${FONT}`;
        ctx.textAlign = 'left';
        ctx.textBaseline = 'alphabetic';
        p.labels.forEach((t: string, i: number) => {
          const px = scales.x.getPixelForValue(i);
          ctx.save();
          ctx.translate(px - 27, a.bottom + 47);
          ctx.rotate((42 * Math.PI) / 180);
          ctx.fillText(t, 0, 0);
          ctx.restore();
        });
        ctx.restore();
      },
    };
    const chart = new Chart(ref.current as HTMLCanvasElement, {
      type: 'bar',
      data: {
        datasets: [{
          data: p.means.map((m: number, i: number) => ({ x: i, y: m })),
          backgroundColor: '#c0c0c0', borderColor: '#666', borderWidth: 2.5,
          barPercentage: 0.6, categoryPercentage: 1,
        }],
      },
      options: {
        animation: false, responsive: false, events: [],
        layout: { padding: { top: 40, right: 20, left: 0, bottom: 0 } },
        plugins: { legend: { display: false }, tooltip: { enabled: false } },
        scales: {
          x: {
            type: 'linear', min: -1, max: n, offset: false,
            afterBuildTicks: (s: any) => { s.ticks = p.labels.map((_: string, i: number) => ({ value: i })); },
            ticks: { display: false },
            grid: { display: true, offset: false, drawOnChartArea: false, drawTicks: true, tickLength: 12, color: '#000', lineWidth: 2.5 },
            border: { display: true, color: '#000', width: 4 },
            afterFit: (s: any) => { s.height = 141; },
          },
          y: {
            type: 'linear', min: 0, max: p.yMax,
            afterBuildTicks: (s: any) => { s.ticks = p.yTicks.map((v: number) => ({ value: v })); },
            ticks: { font: { size: 47, family: FONT }, color: '#222', padding: p.tickPad, callback: (v: any) => String(v) },
            grid: { display: true, drawOnChartArea: false, drawTicks: true, tickLength: 9, color: '#000', lineWidth: 2.5 },
            border: { display: true, color: '#000', width: 3 },
            afterFit: (s: any) => { s.width = p.yAxisW; },
          },
        },
      } as any,
      plugins: [plugin],
    });
    return () => chart.destroy();
  }, []);
  return <canvas ref={ref} width={p.width} height={660}
    style={{ position: 'absolute', left: p.left, top: 3377, width: p.width, height: 660 }} />;
}

// ---------------- table layouts ----------------
const aCols = [28, 240, 481, 722, 962, 1203, 1443, 1612, 1780, 1950];
const aRows = [216, 301, 406, 491, 628, 713, 796, 881, 966, 1048, 1133];
const cCols = [28, 261, 617, 974, 1162, 1351, 1540];
const cRows = [1457, 1540, 1643, 1729, 1813, 1896, 1979, 2065];
const eCols = [28, 261, 449, 638, 827, 1017, 1203, 1390, 1579, 1770, 1958];
const eRows = [2394, 2478, 2742, 2823, 2960, 3047, 3131, 3215];

export default function App() {
  const aCells = buildCells({ regions: aRegions, pos: aPos, allele: aAllele, aa: aAA, haps: aHaps, hapAlleles: aHapAlleles,
    highlight: aHighlight, acc: aAcc, mean: aMean, sd: aSD, statHeads: aStatHeads, verticalPos: false });
  const cCells = buildCells({ regions: cRegions, pos: cPos, allele: cAllele, aa: cAA, haps: cHaps, hapAlleles: cHapAlleles,
    highlight: cHighlight, acc: cAcc, mean: cMean, sd: cSD, statHeads: cStatHeads, verticalPos: false });
  const eCells = buildCells({ regions: eRegions, pos: ePos, allele: eAllele, aa: eAA, haps: eHaps, hapAlleles: eHapAlleles,
    highlight: eHighlight, acc: eAcc, mean: eMean, sd: eSD, statHeads: eStatHeads, verticalPos: true });

  return (
    <div style={{ position: 'absolute', left: 0, top: 0, width: 2980, height: 4037, background: '#fff', overflow: 'hidden', fontFamily: FONT }}>
      {/* panel letters */}
      <Txt x={18} base={74} size={84}>(a)</Txt>
      <Txt x={2008} base={74} size={84}>(b)</Txt>
      <Txt x={24} base={1324} size={84}>(c)</Txt>
      <Txt x={2008} base={1318} size={84}>(d)</Txt>
      <Txt x={19} base={2266} size={84}>(e)</Txt>
      <Txt x={2008} base={2273} size={84}>(f)</Txt>
      <Txt x={17} base={3425} size={84}>(g)</Txt>
      <Txt x={1116} base={3425} size={84}>(h)</Txt>
      <Txt x={1922} base={3425} size={84}>(i)</Txt>

      {/* gene models */}
      <Txt x={842} base={71} size={58} align="center" italic>ART2</Txt>
      <GeneModel left={0} top={60} width={1500} height={165} backbone={[319, 1366]} backboneY={59}
        exons={[[359, 1163]]} exonY={58.5} exonH={79}
        connectors={[[459, 100, 354, 156], [502, 100, 588, 156], [684, 100, 818, 156], [808, 100, 1057, 156], [976, 100, 1287, 156]]} />
      <Txt x={815} base={1318} size={58} align="center" italic>OsAlaAT1</Txt>
      <GeneModel left={0} top={1300} width={1500} height={160} backbone={[138, 1453]} backboneY={63}
        exons={[[151, 181], [342, 372], [453, 481], [492, 522], [543, 571], [634, 690], [700, 755], [767, 830], [845, 901],
          [959, 992], [1022, 1081], [1096, 1156], [1178, 1211], [1231, 1299], [1379, 1435]]}
        exonY={65.5} exonH={79}
        connectors={[[534, 102, 425, 157], [544, 102, 776, 157], [914, 79, 1082, 157]]} />
      <Txt x={813} base={2260} size={58} align="center" italic>OsWRKY31</Txt>
      <GeneModel left={0} top={2230} width={1500} height={170} backbone={[329, 1333]} backboneY={72}
        exons={[[557, 876], [972, 1227]]} exonY={77} exonH={80}
        connectors={[[638, 117, 357, 164], [714, 117, 542, 164], [1027, 117, 733, 164], [1091, 117, 918, 164], [1167, 117, 1116, 164], [1193, 117, 1295, 164]]} />

      {/* tables */}
      <HapTable cols={aCols} rows={aRows} cells={aCells} />
      <HapTable cols={cCols} rows={cRows} cells={cCells} />
      <HapTable cols={eCols} rows={eRows} cells={eCells} />

      {/* regional association plots */}
      <Manhattan areaTop={217} areaBottom={697} xMin={3555} xMax={4975} yMin={-1.0} yMax={15.85}
        xTicks={bXTicks} yTicks={bYTicks} cols={bCols} ld={bLD} lead={bLead} grayColor="rgb(201,199,199)" threshold={5.85}
        gene="ART2" geneBox={[4466, 4596]} geneEnd={4670} geneTop={-0.05}
        title="Chr04:3959459" titleBase={237} posBase={743} legendTop={197} legendBottom={402} />
      <Manhattan areaTop={1456} areaBottom={1940} xMin={12386} xMax={13332} yMin={-0.95} yMax={16.15}
        xTicks={dXTicks} yTicks={dYTicks} cols={dCols} ld={dLD} lead={dLead} grayColor="rgb(200,189,189)" threshold={5.95}
        gene="OsAlaAT1" geneBox={[12921, 13006]} geneEnd={13057} geneTop={0.15}
        title="Chr10:12552737" titleBase={1467} posBase={1984} legendTop={1438} legendBottom={1641} />
      <Manhattan areaTop={2397} areaBottom={2878} xMin={17634} xMax={18580} yMin={-0.71} yMax={10.69}
        xTicks={fXTicks} yTicks={fYTicks} cols={fCols} ld={fLD} lead={fLead} grayColor="rgb(196,196,196)" threshold={3.9}
        gene="OsWRKY31" geneBox={[17967, 18053]} geneEnd={18102} geneTop={0.19}
        title="Chr06:18103083" titleBase={2410} posBase={2918} legendTop={2377} legendBottom={2584} />

      {/* bar charts */}
      <BarPanel left={200} width={828} yAxisW={135} labels={gLabels} means={gMeans} sds={gSDs} letters={gLetters}
        yMax={37.1} yTicks={gYTicks} tickPad={17} />
      <VTxt cx={191} cy={3660} size={60}>SL (cm)</VTxt>
      <BarPanel left={1300} width={533} yAxisW={125} labels={hLabels} means={hMeans} sds={hSDs} letters={hLetters}
        yMax={35} yTicks={hYTicks} tickPad={23} />
      <VTxt cx={1283} cy={3660} size={60}>SL (cm)</VTxt>
      <BarPanel left={2110} width={528} yAxisW={120} labels={iLabels} means={iMeans} sds={iSDs} letters={iLetters}
        yMax={65} yTicks={iYTicks} tickPad={27} />
      <VTxt cx={2083} cy={3662} size={58}>ReRFW</VTxt>
    </div>
  );
}
